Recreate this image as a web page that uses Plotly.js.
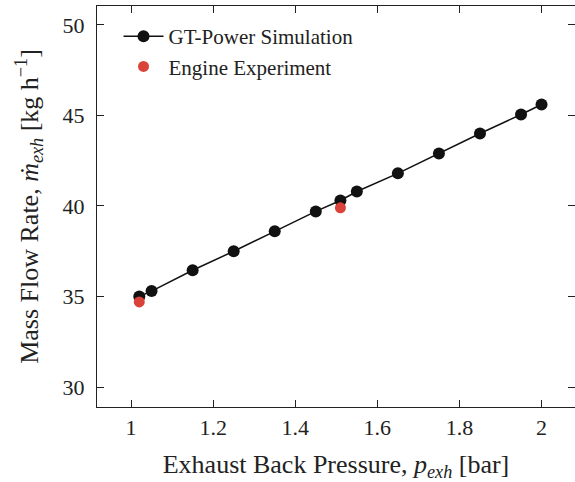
<!DOCTYPE html>
<html><head><meta charset="utf-8">
<script src="https://cdn.plot.ly/plotly-3.0.1.min.js"></script>
<style>html,body{margin:0;padding:0;background:#fff}</style>
</head><body>
<div id="chart" style="width:575px;height:482px"></div>
<script>
const simPressure = [1.02, 1.05, 1.15, 1.25, 1.35, 1.45, 1.51, 1.55, 1.65, 1.75, 1.85, 1.95, 2.0];
const simFlow = [35.0, 35.3, 36.45, 37.5, 38.6, 39.7, 40.3, 40.8, 41.8, 42.9, 44.0, 45.05, 45.6];
const expPressure = [1.02, 1.51];
const expFlow = [34.7, 39.9];
const xTicks = [1, 1.2, 1.4, 1.6, 1.8, 2];
const xTickLabels = ['1', '1.2', '1.4', '1.6', '1.8', '2'];
const yTicks = [30, 35, 40, 45, 50];

const font = 'Liberation Serif, DejaVu Serif, serif';
const traces = [
  {x: simPressure, y: simFlow, mode: 'lines+markers', name: 'GT-Power Simulation',
   line: {color: '#111', width: 1.5}, marker: {color: '#111', size: 12}},
  {x: expPressure, y: expFlow, mode: 'markers', name: 'Engine Experiment',
   marker: {color: '#d9433a', size: 11}}
];
const axisCommon = {showline: true, linecolor: '#222', linewidth: 1.2, mirror: 'ticks',
  ticks: 'inside', ticklen: 7, tickcolor: '#222', showgrid: false, zeroline: false,
  tickfont: {family: font, size: 22, color: '#222'}};
const layout = {
  width: 575, height: 482,
  margin: {l: 97, r: 0, t: 6, b: 75},
  paper_bgcolor: '#fff', plot_bgcolor: '#fff',
  font: {family: font, color: '#222'},
  xaxis: Object.assign({}, axisCommon, {range: [0.917, 2.0815], tickvals: xTicks, ticktext: xTickLabels,
    ticklabelstandoff: 0,
    title: {text: 'Exhaust Back Pressure, <i>p</i><sub><i>exh</i></sub> [bar]', font: {family: font, size: 26, color: '#222'}, standoff: 16}}),
  yaxis: Object.assign({}, axisCommon, {range: [28.9, 51.04], tickvals: yTicks,
    ticklabelstandoff: 7,
    title: {text: 'Mass Flow Rate, <i>ṁ</i><sub><i>exh</i></sub> [kg h<sup>−1</sup>]', font: {family: font, size: 26, color: '#222'}, standoff: 16}}),
  legend: {x: 0.045, y: 0.975, xanchor: 'left', yanchor: 'top', bgcolor: 'rgba(0,0,0,0)',
    font: {family: font, size: 21, color: '#222'}, itemwidth: 40, tracegroupgap: 2},
  showlegend: true
};
Plotly.newPlot('chart', traces, layout, {displayModeBar: false, staticPlot: true});
</script>
</body></html>
